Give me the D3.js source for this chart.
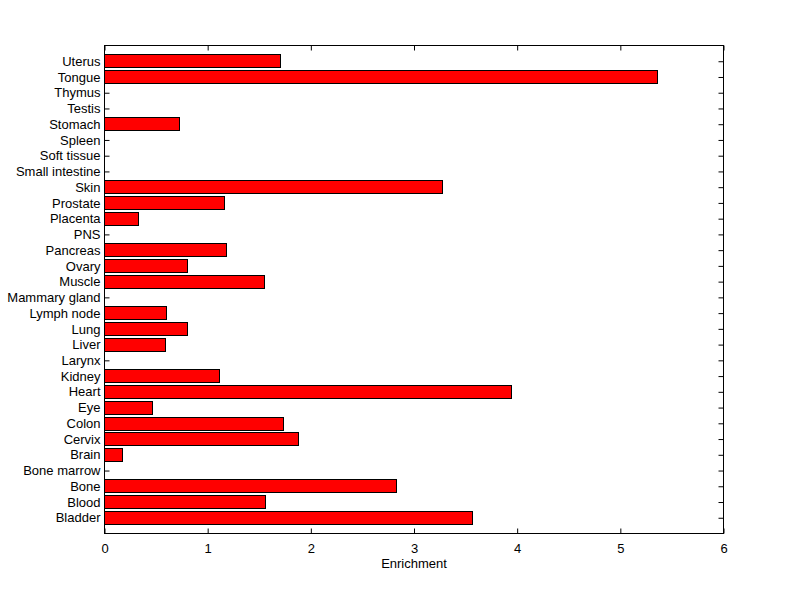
<!DOCTYPE html>
<html><head><meta charset="utf-8">
<script src="https://cdn.jsdelivr.net/npm/d3@7"></script>
<style>body{margin:0;background:#fff}svg{display:block}text{font-family:"Liberation Sans",Arial,sans-serif;font-size:13px;fill:#000}</style>
</head><body>
<script>
const categories = ["Bladder","Blood","Bone","Bone marrow","Brain","Cervix","Colon","Eye","Heart","Kidney","Larynx","Liver","Lung","Lymph node","Mammary gland","Muscle","Ovary","Pancreas","PNS","Placenta","Prostate","Skin","Small intestine","Soft tissue","Spleen","Stomach","Testis","Thymus","Tongue","Uterus"];
const values = [3.57,1.556,2.826,0,0.17,1.88,1.731,0.462,3.947,1.117,0,0.594,0.807,0.604,0,1.553,0.807,1.179,0,0.326,1.159,3.281,0,0,0,0.723,0,0,5.365,1.71];
const xTicks = [0,1,2,3,4,5,6];
const xLabel = "Enrichment";

const W=800,H=599;
const m={l:104,t:45,r:77,b:66};
const iw=W-m.l-m.r, ih=H-m.t-m.b;
const svg=d3.select("body").append("svg").attr("width",W).attr("height",H);
const g=svg.append("g").attr("transform",`translate(${m.l+0.5},${m.t+0.5})`);
const x=d3.scaleLinear().domain([0,6]).range([0,iw]);
const y=d3.scaleLinear().domain([0,categories.length+1]).range([ih,0]);
const bh=(y(0)-y(0.8));

g.selectAll("rect.bar").data(values.map((v,i)=>({v,i}))).join("rect")
 .attr("class","bar")
 .attr("x",x(0)).attr("y",d=>Math.round(y(d.i+1)-bh/2))
 .attr("width",d=>Math.round(x(d.v)-x(0))).attr("height",Math.round(bh))
 .attr("fill",d=>d.v>0?"#ff0000":"none").attr("stroke",d=>d.v>0?"#000":"none").attr("stroke-width",1);

const ax=g.append("g").attr("transform",`translate(0,${ih})`)
 .call(d3.axisBottom(x).tickValues(xTicks).tickFormat(d3.format("d")).tickSizeInner(-5).tickSizeOuter(0).tickPadding(10));
const axT=g.append("g").call(d3.axisTop(x).tickValues(xTicks).tickFormat("").tickSizeInner(-5).tickSizeOuter(0));
const ay=g.append("g")
 .call(d3.axisLeft(y).tickValues(d3.range(1,categories.length+1)).tickFormat(d=>categories[d-1]).tickSizeInner(-5).tickSizeOuter(0).tickPadding(4));
const ayR=g.append("g").attr("transform",`translate(${iw},0)`)
 .call(d3.axisRight(y).tickValues(d3.range(1,categories.length+1)).tickFormat("").tickSizeInner(-5).tickSizeOuter(0));
[ax,axT,ay,ayR].forEach(a=>{a.selectAll(".domain").remove();a.selectAll("line").attr("stroke","#000");a.selectAll("text").style("font-family",'"Liberation Sans",Arial,sans-serif').style("font-size","13px").attr("fill","#000");});
ax.selectAll("text").attr("dy","0.71em");
g.selectAll("rect.bar").raise();
g.append("rect").attr("x",0).attr("y",0).attr("width",iw).attr("height",ih).attr("fill","none").attr("stroke","#000").attr("stroke-width",1);

g.append("text").attr("x",iw/2).attr("y",ih+34).attr("text-anchor","middle").text(xLabel);
</script>
</body></html>
